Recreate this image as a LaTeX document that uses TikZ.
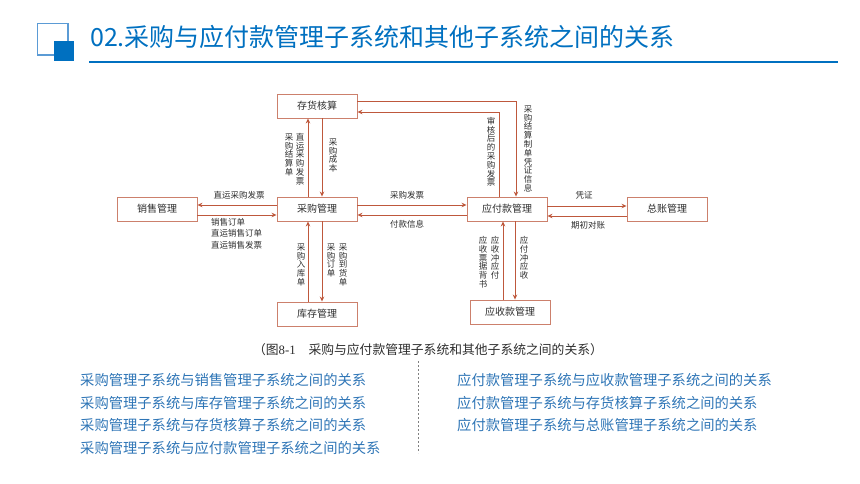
\documentclass[tikz,border=0pt]{standalone}
\usepackage{fontspec}
\setmainfont{Noto Sans CJK SC}
\newfontfamily\capnum{Liberation Serif}
\usetikzlibrary{positioning,arrows.meta}
\definecolor{boxline}{RGB}{204,128,108}
\definecolor{flowline}{RGB}{190,88,60}
\definecolor{titleblue}{RGB}{0,112,192}
\definecolor{iconblue}{RGB}{91,155,213}
\definecolor{listblue}{RGB}{46,117,182}
\definecolor{txt}{RGB}{45,45,45}
\begin{document}
\begin{tikzpicture}[x=1pt, y=-1pt, node distance=103pt,
    box/.style={draw=boxline, line width=0.9pt, minimum width=80pt, minimum height=24pt, inner sep=0pt, text=txt, font=\fontsize{10}{12}\selectfont},
    flow/.style={draw=flowline, line width=0.9pt, -{Stealth[length=5pt, width=4.5pt]}},
    lbl/.style={text=txt, inner sep=0pt, font=\fontsize{8.5}{10}\selectfont},
    vlbl/.style={lbl, anchor=north, align=center, font=\fontsize{8.5}{8.8}\selectfont},
    item/.style={anchor=west, inner sep=0pt, text=listblue, font=\fontsize{14.3}{16}\selectfont}]
    \useasboundingbox (0,0) rectangle (860,484);

    % Title
    \draw[iconblue, line width=1.3pt] (37.5,23.5) rectangle (68,55);
    \fill[titleblue] (54,41) rectangle (74,61);
    \node[anchor=base west, inner sep=0pt, text=titleblue, font=\fontsize{25}{29}\selectfont] (title) at (90,47) {02.采购与应付款管理子系统和其他子系统之间的关系};
    \draw[titleblue, line width=1.2pt] (89,62) -- (838,62);

    % Subsystems
    \node[box] (cg) at (317,209) {采购管理};
    \node[box, above of=cg] (ch) {存货核算};
    \node[box, below of=cg, yshift=-2pt] (kc) {库存管理};
    \node[box, left of=cg, node distance=160pt] (xs) {销售管理};
    \node[box, right of=cg, node distance=190pt] (yf) {应付款管理};
    \node[box, right of=yf, node distance=160pt] (zz) {总账管理};
    \node[box, below of=yf, xshift=3pt] (ys) {应收款管理};

    % Connections
    \draw[flow] ([xshift=-9pt]cg.north) -- ([xshift=-9pt]ch.south);
    \draw[flow] ([xshift=5pt]ch.south) -- ([xshift=5pt]cg.north);
    \draw[flow] ([yshift=4pt]cg.west) -- ([yshift=4pt]xs.east);
    \draw[flow] ([yshift=-6pt]xs.east) -- ([yshift=-6pt]cg.west);
    \draw[flow] ([xshift=-9pt]kc.north) -- ([xshift=-9pt]cg.south);
    \draw[flow] ([xshift=5pt]cg.south) -- ([xshift=5pt]kc.north);
    \draw[flow] ([yshift=4pt]cg.east) -- ([yshift=4pt]yf.west);
    \draw[flow] ([yshift=-6pt]yf.west) -- ([yshift=-6pt]cg.east);
    \draw[flow] ([yshift=5pt]ch.east) -| ([xshift=9pt]yf.north);
    \draw[flow] ([xshift=-8pt]yf.north) |- ([yshift=-6pt]ch.east);
    \draw[flow] ([yshift=3pt]yf.east) -- ([yshift=3pt]zz.west);
    \draw[flow] ([yshift=-7pt]zz.west) -- ([yshift=-7pt]yf.east);
    \draw[flow] ([xshift=-4pt]yf.south |- ys.north) -- ([xshift=-4pt]yf.south);
    \draw[flow] ([xshift=8pt]yf.south) -- ([xshift=8pt]yf.south |- ys.north);

    % Labels
    \node[vlbl] (jsd) at (289,133) {采\\购\\结\\算\\单};
    \node[vlbl] (zyfp) at (300,133) {直\\运\\采\\购\\发\\票};
    \node[vlbl] (cgcb) at (333,138) {采\\购\\成\\本};
    \node[lbl] (zyfp2) at (239,195) {直运采购发票};
    \node[lbl, anchor=north west, align=left, font=\fontsize{8.5}{11.5}\selectfont] (xsdd) at (211,218) {销售订单\\直运销售订单\\直运销售发票};
    \node[vlbl] (rkd) at (301,243) {采\\购\\入\\库\\单};
    \node[vlbl] (cgdd) at (331,243) {采\\购\\订\\单};
    \node[vlbl] (dhd) at (343,243) {采\\购\\到\\货\\单};
    \node[lbl] (cgfp) at (407,195) {采购发票};
    \node[lbl] (fkxx) at (407,224) {付款信息};
    \node[vlbl] (shfp) at (491,117) {审\\核\\后\\的\\采\\购\\发\\票};
    \node[vlbl] (pzxx) at (528,105) {采\\购\\结\\算\\制\\单\\凭\\证\\信\\息};
    \node[lbl] (pz) at (584,195) {凭证};
    \node[lbl] (qcdz) at (588,225) {期初对账};
    \node[vlbl] (bs) at (483,236) {应\\收\\票\\据\\背\\书};
    \node[vlbl] (ysyf) at (495,236) {应\\收\\冲\\应\\付};
    \node[vlbl] (yfys) at (524,236) {应\\付\\冲\\应\\收};

    % Caption and list
    \node[text=txt, inner sep=0pt, font=\fontsize{12.8}{15}\selectfont] (cap) at (428,350) {（图{\capnum 8-1}\quad 采购与应付款管理子系统和其他子系统之间的关系）};
    \node[item] (a1) at (80,380) {采购管理子系统与销售管理子系统之间的关系};
    \node[item] (a2) at (80,403) {采购管理子系统与库存管理子系统之间的关系};
    \node[item] (a3) at (80,425) {采购管理子系统与存货核算子系统之间的关系};
    \node[item] (a4) at (80,448) {采购管理子系统与应付款管理子系统之间的关系};
    \node[item] (b1) at (457,380) {应付款管理子系统与应收款管理子系统之间的关系};
    \node[item] (b2) at (457,403) {应付款管理子系统与存货核算子系统之间的关系};
    \node[item] (b3) at (457,425) {应付款管理子系统与总账管理子系统之间的关系};
    \draw[gray, dash pattern=on 2pt off 2pt, line width=0.6pt] (418,361) -- (418,453);
\end{tikzpicture}
\end{document}
